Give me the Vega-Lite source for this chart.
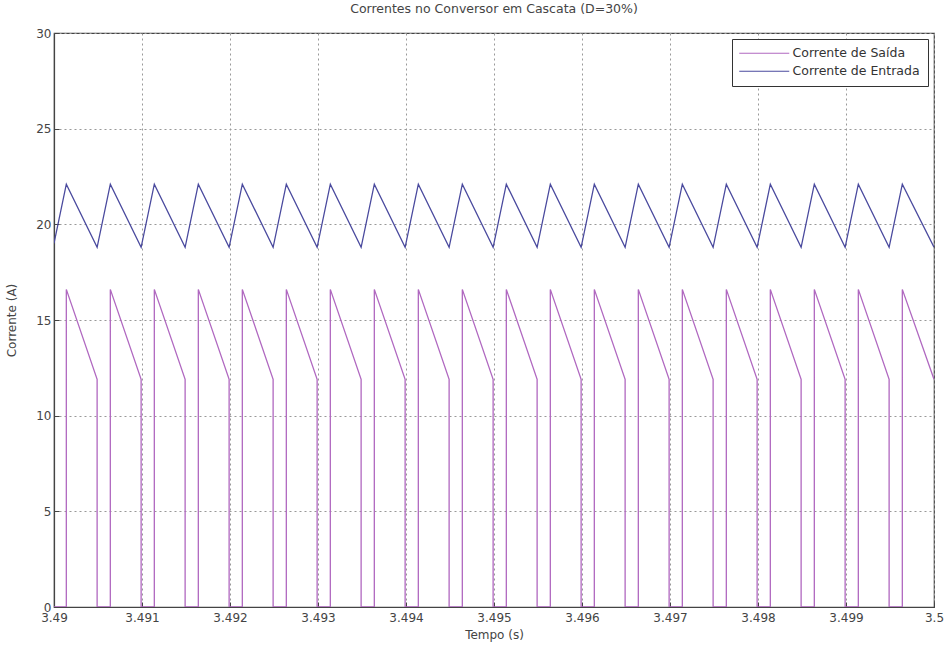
{
  "$schema": "https://vega.github.io/schema/vega-lite/v6.json",
  "width": 880,
  "height": 574,
  "autosize": {"type": "none"},
  "padding": {"left": 54, "top": 33, "right": 10, "bottom": 43},
  "background": "white",
  "config": {
    "font": "DejaVu Sans",
    "view": {"stroke": "#444", "strokeWidth": 1.2},
    "axis": {
      "labelFont": "DejaVu Sans", "labelFontSize": 12, "labelColor": "#444",
      "titleFont": "DejaVu Sans", "titleFontSize": 12, "titleColor": "#444", "titleFontWeight": "normal",
      "domainColor": "#444", "domainWidth": 1.2,
      "tickColor": "#444", "tickSize": -5,
      "gridColor": "#999999", "gridDash": [2, 3], "gridWidth": 1
    }
  },
  "title": {
    "text": "Correntes no Conversor em Cascata (D=30%)",
    "font": "DejaVu Sans", "fontSize": 12.5, "fontWeight": "normal", "color": "#444",
    "anchor": "middle", "offset": 12
  },
  "data": {
    "values": [
      {"s": "Corrente de Entrada", "i": 0, "t": 3.49, "v": 19.0},
      {"s": "Corrente de Entrada", "i": 1, "t": 3.49014, "v": 22.1},
      {"s": "Corrente de Entrada", "i": 2, "t": 3.49049, "v": 18.8},
      {"s": "Corrente de Entrada", "i": 3, "t": 3.49064, "v": 22.1},
      {"s": "Corrente de Entrada", "i": 4, "t": 3.49099, "v": 18.8},
      {"s": "Corrente de Entrada", "i": 5, "t": 3.49114, "v": 22.1},
      {"s": "Corrente de Entrada", "i": 6, "t": 3.49149, "v": 18.8},
      {"s": "Corrente de Entrada", "i": 7, "t": 3.49164, "v": 22.1},
      {"s": "Corrente de Entrada", "i": 8, "t": 3.49199, "v": 18.8},
      {"s": "Corrente de Entrada", "i": 9, "t": 3.49214, "v": 22.1},
      {"s": "Corrente de Entrada", "i": 10, "t": 3.49249, "v": 18.8},
      {"s": "Corrente de Entrada", "i": 11, "t": 3.49264, "v": 22.1},
      {"s": "Corrente de Entrada", "i": 12, "t": 3.49299, "v": 18.8},
      {"s": "Corrente de Entrada", "i": 13, "t": 3.49314, "v": 22.1},
      {"s": "Corrente de Entrada", "i": 14, "t": 3.49349, "v": 18.8},
      {"s": "Corrente de Entrada", "i": 15, "t": 3.49364, "v": 22.1},
      {"s": "Corrente de Entrada", "i": 16, "t": 3.49399, "v": 18.8},
      {"s": "Corrente de Entrada", "i": 17, "t": 3.49414, "v": 22.1},
      {"s": "Corrente de Entrada", "i": 18, "t": 3.49449, "v": 18.8},
      {"s": "Corrente de Entrada", "i": 19, "t": 3.49464, "v": 22.1},
      {"s": "Corrente de Entrada", "i": 20, "t": 3.49499, "v": 18.8},
      {"s": "Corrente de Entrada", "i": 21, "t": 3.49514, "v": 22.1},
      {"s": "Corrente de Entrada", "i": 22, "t": 3.49549, "v": 18.8},
      {"s": "Corrente de Entrada", "i": 23, "t": 3.49564, "v": 22.1},
      {"s": "Corrente de Entrada", "i": 24, "t": 3.49599, "v": 18.8},
      {"s": "Corrente de Entrada", "i": 25, "t": 3.49614, "v": 22.1},
      {"s": "Corrente de Entrada", "i": 26, "t": 3.49649, "v": 18.8},
      {"s": "Corrente de Entrada", "i": 27, "t": 3.49664, "v": 22.1},
      {"s": "Corrente de Entrada", "i": 28, "t": 3.49699, "v": 18.8},
      {"s": "Corrente de Entrada", "i": 29, "t": 3.49714, "v": 22.1},
      {"s": "Corrente de Entrada", "i": 30, "t": 3.49749, "v": 18.8},
      {"s": "Corrente de Entrada", "i": 31, "t": 3.49764, "v": 22.1},
      {"s": "Corrente de Entrada", "i": 32, "t": 3.49799, "v": 18.8},
      {"s": "Corrente de Entrada", "i": 33, "t": 3.49814, "v": 22.1},
      {"s": "Corrente de Entrada", "i": 34, "t": 3.49849, "v": 18.8},
      {"s": "Corrente de Entrada", "i": 35, "t": 3.49864, "v": 22.1},
      {"s": "Corrente de Entrada", "i": 36, "t": 3.49899, "v": 18.8},
      {"s": "Corrente de Entrada", "i": 37, "t": 3.49914, "v": 22.1},
      {"s": "Corrente de Entrada", "i": 38, "t": 3.49949, "v": 18.8},
      {"s": "Corrente de Entrada", "i": 39, "t": 3.49964, "v": 22.1},
      {"s": "Corrente de Entrada", "i": 40, "t": 3.5, "v": 18.8},

      {"s": "Corrente de Saída", "i": 0, "t": 3.49, "v": 0},
      {"s": "Corrente de Saída", "i": 1, "t": 3.49014, "v": 0},
      {"s": "Corrente de Saída", "i": 2, "t": 3.49014, "v": 16.6},
      {"s": "Corrente de Saída", "i": 3, "t": 3.49049, "v": 11.9},
      {"s": "Corrente de Saída", "i": 4, "t": 3.49049, "v": 0},
      {"s": "Corrente de Saída", "i": 5, "t": 3.49064, "v": 0},
      {"s": "Corrente de Saída", "i": 6, "t": 3.49064, "v": 16.6},
      {"s": "Corrente de Saída", "i": 7, "t": 3.49099, "v": 11.9},
      {"s": "Corrente de Saída", "i": 8, "t": 3.49099, "v": 0},
      {"s": "Corrente de Saída", "i": 9, "t": 3.49114, "v": 0},
      {"s": "Corrente de Saída", "i": 10, "t": 3.49114, "v": 16.6},
      {"s": "Corrente de Saída", "i": 11, "t": 3.49149, "v": 11.9},
      {"s": "Corrente de Saída", "i": 12, "t": 3.49149, "v": 0},
      {"s": "Corrente de Saída", "i": 13, "t": 3.49164, "v": 0},
      {"s": "Corrente de Saída", "i": 14, "t": 3.49164, "v": 16.6},
      {"s": "Corrente de Saída", "i": 15, "t": 3.49199, "v": 11.9},
      {"s": "Corrente de Saída", "i": 16, "t": 3.49199, "v": 0},
      {"s": "Corrente de Saída", "i": 17, "t": 3.49214, "v": 0},
      {"s": "Corrente de Saída", "i": 18, "t": 3.49214, "v": 16.6},
      {"s": "Corrente de Saída", "i": 19, "t": 3.49249, "v": 11.9},
      {"s": "Corrente de Saída", "i": 20, "t": 3.49249, "v": 0},
      {"s": "Corrente de Saída", "i": 21, "t": 3.49264, "v": 0},
      {"s": "Corrente de Saída", "i": 22, "t": 3.49264, "v": 16.6},
      {"s": "Corrente de Saída", "i": 23, "t": 3.49299, "v": 11.9},
      {"s": "Corrente de Saída", "i": 24, "t": 3.49299, "v": 0},
      {"s": "Corrente de Saída", "i": 25, "t": 3.49314, "v": 0},
      {"s": "Corrente de Saída", "i": 26, "t": 3.49314, "v": 16.6},
      {"s": "Corrente de Saída", "i": 27, "t": 3.49349, "v": 11.9},
      {"s": "Corrente de Saída", "i": 28, "t": 3.49349, "v": 0},
      {"s": "Corrente de Saída", "i": 29, "t": 3.49364, "v": 0},
      {"s": "Corrente de Saída", "i": 30, "t": 3.49364, "v": 16.6},
      {"s": "Corrente de Saída", "i": 31, "t": 3.49399, "v": 11.9},
      {"s": "Corrente de Saída", "i": 32, "t": 3.49399, "v": 0},
      {"s": "Corrente de Saída", "i": 33, "t": 3.49414, "v": 0},
      {"s": "Corrente de Saída", "i": 34, "t": 3.49414, "v": 16.6},
      {"s": "Corrente de Saída", "i": 35, "t": 3.49449, "v": 11.9},
      {"s": "Corrente de Saída", "i": 36, "t": 3.49449, "v": 0},
      {"s": "Corrente de Saída", "i": 37, "t": 3.49464, "v": 0},
      {"s": "Corrente de Saída", "i": 38, "t": 3.49464, "v": 16.6},
      {"s": "Corrente de Saída", "i": 39, "t": 3.49499, "v": 11.9},
      {"s": "Corrente de Saída", "i": 40, "t": 3.49499, "v": 0},
      {"s": "Corrente de Saída", "i": 41, "t": 3.49514, "v": 0},
      {"s": "Corrente de Saída", "i": 42, "t": 3.49514, "v": 16.6},
      {"s": "Corrente de Saída", "i": 43, "t": 3.49549, "v": 11.9},
      {"s": "Corrente de Saída", "i": 44, "t": 3.49549, "v": 0},
      {"s": "Corrente de Saída", "i": 45, "t": 3.49564, "v": 0},
      {"s": "Corrente de Saída", "i": 46, "t": 3.49564, "v": 16.6},
      {"s": "Corrente de Saída", "i": 47, "t": 3.49599, "v": 11.9},
      {"s": "Corrente de Saída", "i": 48, "t": 3.49599, "v": 0},
      {"s": "Corrente de Saída", "i": 49, "t": 3.49614, "v": 0},
      {"s": "Corrente de Saída", "i": 50, "t": 3.49614, "v": 16.6},
      {"s": "Corrente de Saída", "i": 51, "t": 3.49649, "v": 11.9},
      {"s": "Corrente de Saída", "i": 52, "t": 3.49649, "v": 0},
      {"s": "Corrente de Saída", "i": 53, "t": 3.49664, "v": 0},
      {"s": "Corrente de Saída", "i": 54, "t": 3.49664, "v": 16.6},
      {"s": "Corrente de Saída", "i": 55, "t": 3.49699, "v": 11.9},
      {"s": "Corrente de Saída", "i": 56, "t": 3.49699, "v": 0},
      {"s": "Corrente de Saída", "i": 57, "t": 3.49714, "v": 0},
      {"s": "Corrente de Saída", "i": 58, "t": 3.49714, "v": 16.6},
      {"s": "Corrente de Saída", "i": 59, "t": 3.49749, "v": 11.9},
      {"s": "Corrente de Saída", "i": 60, "t": 3.49749, "v": 0},
      {"s": "Corrente de Saída", "i": 61, "t": 3.49764, "v": 0},
      {"s": "Corrente de Saída", "i": 62, "t": 3.49764, "v": 16.6},
      {"s": "Corrente de Saída", "i": 63, "t": 3.49799, "v": 11.9},
      {"s": "Corrente de Saída", "i": 64, "t": 3.49799, "v": 0},
      {"s": "Corrente de Saída", "i": 65, "t": 3.49814, "v": 0},
      {"s": "Corrente de Saída", "i": 66, "t": 3.49814, "v": 16.6},
      {"s": "Corrente de Saída", "i": 67, "t": 3.49849, "v": 11.9},
      {"s": "Corrente de Saída", "i": 68, "t": 3.49849, "v": 0},
      {"s": "Corrente de Saída", "i": 69, "t": 3.49864, "v": 0},
      {"s": "Corrente de Saída", "i": 70, "t": 3.49864, "v": 16.6},
      {"s": "Corrente de Saída", "i": 71, "t": 3.49899, "v": 11.9},
      {"s": "Corrente de Saída", "i": 72, "t": 3.49899, "v": 0},
      {"s": "Corrente de Saída", "i": 73, "t": 3.49914, "v": 0},
      {"s": "Corrente de Saída", "i": 74, "t": 3.49914, "v": 16.6},
      {"s": "Corrente de Saída", "i": 75, "t": 3.49949, "v": 11.9},
      {"s": "Corrente de Saída", "i": 76, "t": 3.49949, "v": 0},
      {"s": "Corrente de Saída", "i": 77, "t": 3.49964, "v": 0},
      {"s": "Corrente de Saída", "i": 78, "t": 3.49964, "v": 16.6},
      {"s": "Corrente de Saída", "i": 79, "t": 3.5, "v": 11.9}
    ]
  },
  "mark": {"type": "line", "strokeWidth": 1.3, "clip": true},
  "encoding": {
    "x": {
      "field": "t", "type": "quantitative",
      "scale": {"domain": [3.49, 3.5], "nice": false, "zero": false},
      "axis": {
        "title": "Tempo (s)", "titleY": 22,
        "values": [3.49, 3.491, 3.492, 3.493, 3.494, 3.495, 3.496, 3.497, 3.498, 3.499, 3.5],
        "labelExpr": "format(datum.value, '.4~f')",
        "labelPadding": 10, "labelFlush": false
      }
    },
    "y": {
      "field": "v", "type": "quantitative",
      "scale": {"domain": [0, 30], "nice": false},
      "axis": {
        "title": "Corrente (A)", "titleX": -36,
        "values": [0, 5, 10, 15, 20, 25, 30],
        "labelPadding": 8, "labelFlush": false
      }
    },
    "color": {
      "field": "s", "type": "nominal",
      "scale": {"domain": ["Corrente de Saída", "Corrente de Entrada"], "range": ["#b068c0", "#4a4a9e"]},
      "legend": {
        "title": null, "orient": "top-right", "offset": 6,
        "strokeColor": "#333", "fillColor": "white", "padding": 8,
        "symbolType": "M-5,0H5", "symbolSize": 100, "symbolStrokeWidth": 1.2,
        "symbolOffset": 18, "labelOffset": 22,
        "labelFont": "DejaVu Sans", "labelFontSize": 12.5, "labelColor": "#333",
        "rowPadding": 5
      }
    },
    "order": {"field": "i", "type": "quantitative"}
  }
}
